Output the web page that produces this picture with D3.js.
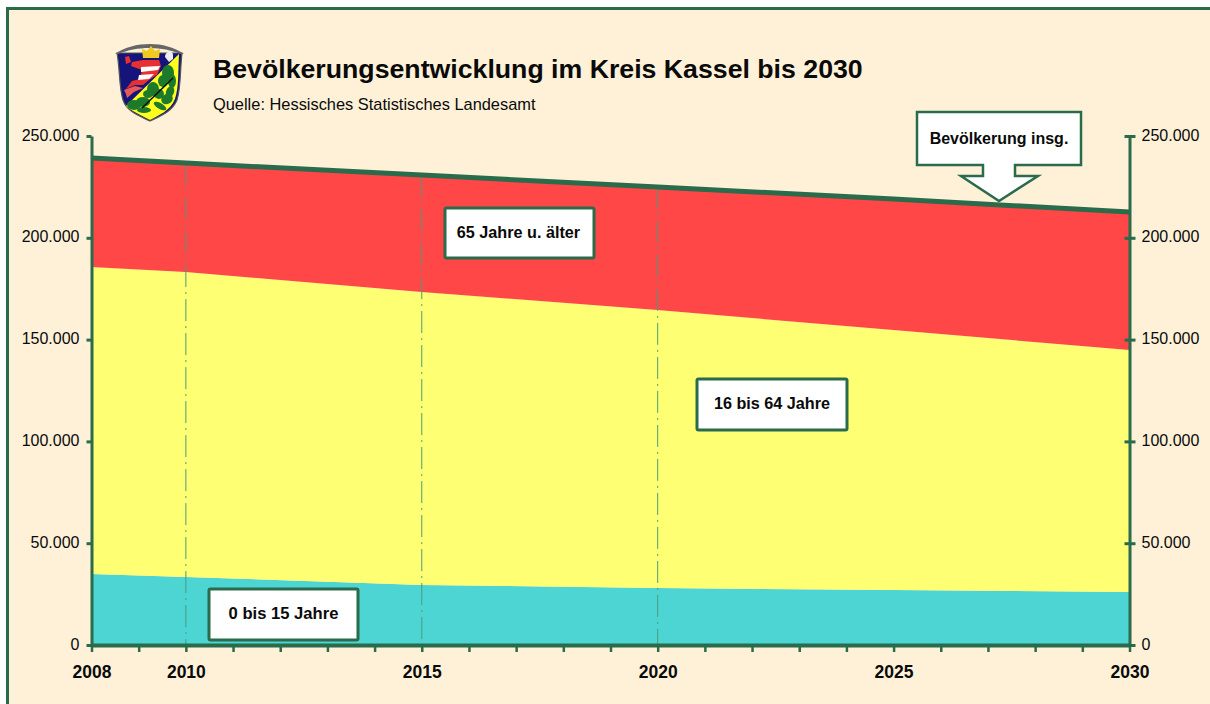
<!DOCTYPE html>
<html>
<head>
<meta charset="utf-8">
<script src="https://cdnjs.cloudflare.com/ajax/libs/d3/7.8.5/d3.min.js"></script>
<style>
  html, body { margin: 0; padding: 0; background: #fff; overflow: hidden; }
  text { font-family: "Liberation Sans", Arial, sans-serif; fill: #0a0a0a; }
</style>
</head>
<body>
<script>
const width = 1210;
const height = 704;
const margin = { top: 136, right: 80, bottom: 59, left: 91.5 };

const green = "#2a6b4c";
const gridGreen = "#4b9c7c";
const cream = "#fef1d8";

const years = [2008, 2010, 2015, 2020, 2025, 2030];
const young = [34900, 33400, 29500, 28000, 27000, 26000];
const middle = [150800, 149800, 143900, 136500, 127700, 118900];
const old = [53500, 53500, 57400, 60500, 64300, 67800];
const total = [239200, 236700, 230800, 225000, 219000, 212700];

const yTicks = [0, 50000, 100000, 150000, 200000, 250000];
const xLabels = [2008, 2010, 2015, 2020, 2025, 2030];
const gridYears = [2010, 2015, 2020];

const groups = ["young", "middle", "old"];
const groupColors = ["#4dd5d3", "#ffff73", "#ff4747"];

const rows = years.map((year, i) => ({
  year, young: young[i], middle: middle[i], old: old[i], total: total[i]
}));

const svg = d3.select("body")
  .append("svg")
  .attr("width", width)
  .attr("height", height)
  .style("display", "block");

// frame, runs off the picture at the right and the bottom
svg.append("rect")
  .attr("x", 7.5)
  .attr("y", 8.5)
  .attr("width", width + 20)
  .attr("height", height + 20)
  .attr("fill", cream)
  .attr("stroke", green)
  .attr("stroke-width", 3);

const chartWidth = width - margin.left - margin.right;
const chartHeight = height - margin.top - margin.bottom;

const g = svg.append("g")
  .attr("transform", `translate(${margin.left}, ${margin.top})`);

const x = d3.scaleLinear()
  .domain([2008, 2030])
  .range([0, chartWidth - 0.5]);

const y = d3.scaleLinear()
  .domain([0, 250000])
  .range([chartHeight, 0]);

const stacked = d3.stack().keys(groups)(rows);

const area = d3.area()
  .x(d => x(d.data.year))
  .y0(d => y(d[0]))
  .y1(d => y(d[1]));

g.selectAll("path.band")
  .data(stacked)
  .enter()
  .append("path")
    .attr("class", "band")
    .attr("d", area)
    .attr("fill", (d, i) => groupColors[i]);

g.selectAll("line.grid")
  .data(gridYears)
  .enter()
  .append("line")
    .attr("class", "grid")
    .attr("x1", d => x(d))
    .attr("x2", d => x(d))
    .attr("y1", d => y(total[years.indexOf(d)]))
    .attr("y2", chartHeight)
    .attr("stroke", gridGreen)
    .attr("stroke-width", 1)
    .attr("stroke-dasharray", "22 5 2 5");

const totalLine = d3.line()
  .x(d => x(d.year))
  .y(d => y(d.total));

g.append("path")
  .datum(rows)
  .attr("d", totalLine)
  .attr("fill", "none")
  .attr("stroke", green)
  .attr("stroke-width", 5);

const deFormat = d3.formatLocale({
  decimal: ",", thousands: ".", grouping: [3], currency: ["", " €"]
}).format(",d");

function styleAxis(sel) {
  sel.select(".domain")
    .attr("stroke", green)
    .attr("stroke-width", 3);
  sel.selectAll(".tick line")
    .attr("stroke", green)
    .attr("stroke-width", 3);
  sel.selectAll("text")
    .attr("fill", "#0a0a0a")
    .style("font-family", '"Liberation Sans", Arial, sans-serif');
}

const leftAxis = g.append("g")
  .call(d3.axisLeft(y).tickValues(yTicks).tickFormat(deFormat).tickSize(5).tickSizeOuter(0).tickPadding(7))
  .call(styleAxis);
leftAxis.selectAll("text").style("font-size", "16px").attr("dy", "0.25em");

const rightAxis = g.append("g")
  .attr("transform", `translate(${x(2030)}, 0)`)
  .call(d3.axisRight(y).tickValues(yTicks).tickFormat(deFormat).tickSize(6).tickSizeOuter(0).tickPadding(6))
  .call(styleAxis);
rightAxis.selectAll(".tick line").attr("x1", -5);
rightAxis.selectAll("text").style("font-size", "16px").attr("dy", "0.25em");

const bottomAxis = g.append("g")
  .attr("transform", `translate(0, ${chartHeight})`)
  .call(d3.axisBottom(x)
    .tickValues(d3.range(2008, 2031))
    .tickFormat(d => xLabels.includes(d) ? d3.format("d")(d) : "")
    .tickSize(7)
    .tickSizeOuter(0)
    .tickPadding(14))
  .call(styleAxis);
bottomAxis.select(".domain").attr("stroke-width", 4);
bottomAxis.selectAll(".tick line").attr("stroke-width", 2.5);
bottomAxis.selectAll("text")
  .style("font-size", "17.5px")
  .style("font-weight", "bold");

// title block
svg.append("text")
  .attr("x", 213)
  .attr("y", 78)
  .attr("font-size", 26.7)
  .attr("font-weight", "bold")
  .text("Bevölkerungsentwicklung im Kreis Kassel bis 2030");

svg.append("text")
  .attr("x", 213)
  .attr("y", 110)
  .attr("font-size", 16.4)
  .text("Quelle: Hessisches Statistisches Landesamt");

// labels of the bands
const boxes = [
  { text: "65 Jahre u. älter", x: 445, y: 208, w: 149, h: 50, size: 16.2, dx: -1 },
  { text: "16 bis 64 Jahre", x: 697, y: 379, w: 150, h: 51, size: 16.2, dx: 0 },
  { text: "0 bis 15 Jahre", x: 209, y: 589, w: 149, h: 51, size: 16.6, dx: 0 }
];

boxes.forEach(b => {
  svg.append("rect")
    .attr("x", b.x)
    .attr("y", b.y)
    .attr("width", b.w)
    .attr("height", b.h)
    .attr("rx", 1.5)
    .attr("fill", "#fff")
    .attr("stroke", green)
    .attr("stroke-width", 3);
  svg.append("text")
    .attr("x", b.x + b.w / 2 + b.dx)
    .attr("y", b.y + b.h / 2 + 4.5)
    .attr("text-anchor", "middle")
    .attr("font-size", b.size)
    .attr("font-weight", "bold")
    .text(b.text);
});

// callout for the total
svg.append("path")
  .attr("d", "M917,112 H1081 V165 H1015 V176 H1038 L999,201 L961,176 H983 V165 H917 Z")
  .attr("fill", "#fff")
  .attr("stroke", green)
  .attr("stroke-width", 2.5);

svg.append("text")
  .attr("x", 999)
  .attr("y", 144)
  .attr("text-anchor", "middle")
  .attr("font-size", 16)
  .attr("font-weight", "bold")
  .text("Bevölkerung insg.");

// coat of arms
const arms = svg.append("g").attr("transform", "translate(115, 42)");
const shield = "M2,11 H67 C65,28 66,45 62,58 C57,70 45,74 35,79 C25,74 12,70 8,58 C4,45 5,28 2,11 Z";

arms.append("path").attr("d", shield).attr("fill", "#14147a").attr("stroke", "#555").attr("stroke-width", 1.2);
arms.append("path").attr("d", "M0,12 C10,5 22,2 35,2 C47,2 59,5 69,12 L66,12 C56,8 46,6 35,6 C23,6 13,8 3,12 Z").attr("fill", "#666");
arms.append("path").attr("d", "M64,12 C63,30 64,45 60,57 C55,69 44,73 35,78 C26,73 16,69 11,64 Z").attr("fill", "#ffff1e");
// lion
arms.append("path").attr("d", "M10,15 L14,14 L16,20 L11,22 Z M28,18 L44,18 L46,24 L42,33 L34,38 L28,43 L20,43 L11,47 L17,39 L25,37 L27,28 L16,24 L17,20 Z").attr("fill", "#e83030");
arms.append("path").attr("d", "M26,25 L45,24 L43,28 L26,30 Z M24,33 L39,32 L34,37 L23,38 Z").attr("fill", "#fff");
arms.append("path").attr("d", "M9,48 L20,44 L28,46 L19,50 L12,56 L11,52 Z").attr("fill", "#e85a5a");
arms.append("path").attr("d", "M50,15 C50,9 58,8 58,13 L58,17 L54,20 Z").attr("fill", "#eee");
// crown
arms.append("path").attr("d", "M28,16 L27,7 L32,9 L36,4 L40,9 L45,7 L44,16 Z").attr("fill", "#f2c91e");
// oak leaves and branch
arms.append("g").attr("fill", "#1c7a2a").selectAll("ellipse")
  .data([[53, 31, 6, 8, 0], [57, 39, 4, 7, 0], [48, 39, 5, 6, 0], [38, 47, 6, 7, 0], [44, 52, 5, 5, 0], [33, 52, 5, 4, 0],
    [55, 50, 4, 6, 20], [52, 57, 6, 5, -30], [19, 63, 7, 5, 0], [28, 60, 7, 5, 0], [29, 68, 7, 3, 0], [45, 64, 7, 3, 30]])
  .enter()
  .append("ellipse")
    .attr("cx", d => d[0])
    .attr("cy", d => d[1])
    .attr("rx", d => d[2])
    .attr("ry", d => d[3])
    .attr("transform", d => `rotate(${d[4]} ${d[0]} ${d[1]})`);
arms.append("line")
  .attr("x1", 27).attr("y1", 66).attr("x2", 58).attr("y2", 36)
  .attr("stroke", "#111").attr("stroke-width", 1.6);
</script>
</body>
</html>
